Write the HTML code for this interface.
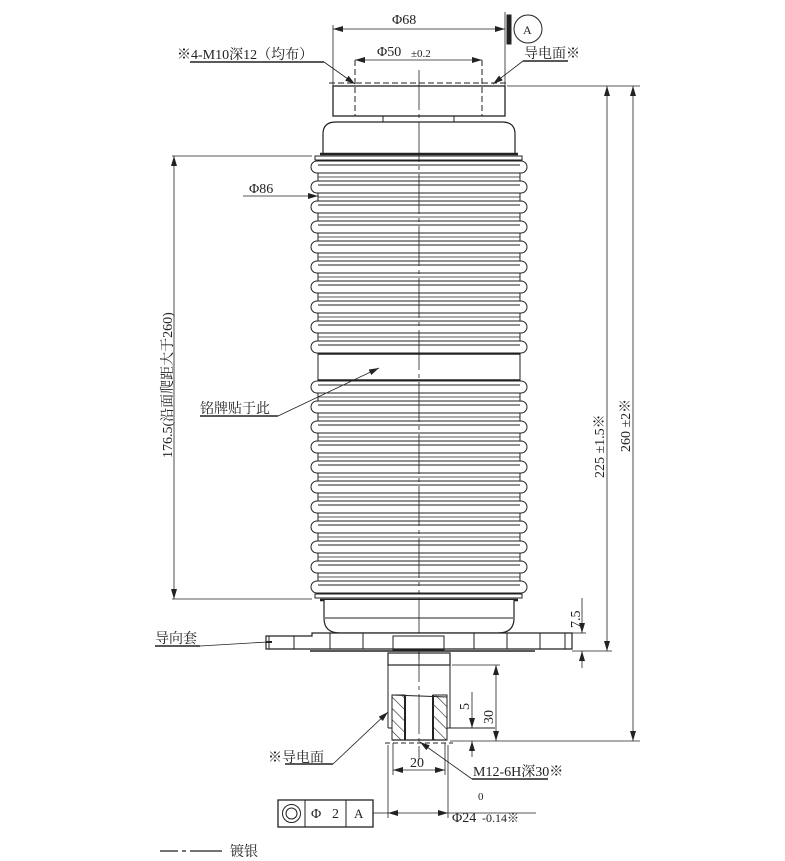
<!DOCTYPE html>
<html><head><meta charset="utf-8"><style>
html,body{margin:0;padding:0;background:#fff;}
svg{display:block;}
text{font-family:"Liberation Serif","Noto Serif CJK SC","Noto Sans CJK SC",serif;fill:#222;}
</style></head><body>
<svg width="785" height="861" viewBox="0 0 785 861" xmlns="http://www.w3.org/2000/svg">
<defs>
<marker id="ar" markerWidth="10" markerHeight="6" refX="10" refY="3" orient="auto-start-reverse" markerUnits="userSpaceOnUse"><path d="M0,0 L10,3 L0,6 z" fill="#222"/></marker>
<pattern id="hat" width="8" height="8" patternUnits="userSpaceOnUse" patternTransform="rotate(-45)"><line x1="0" y1="0" x2="0" y2="8" stroke="#222" stroke-width="1.2"/></pattern>
<g id="rib">
<rect x="311" y="-6" width="216" height="12" rx="6" ry="6" fill="#fff"/>
<line x1="318" y1="-2" x2="520" y2="-2"/>
<line x1="318" y1="10" x2="520" y2="10" stroke-width="0.8"/>
</g>
</defs>
<g stroke="#222" fill="none" stroke-width="1">
<line x1="329" y1="83" x2="507" y2="83" stroke-dasharray="6,3"/>
<rect x="333" y="86" width="172" height="30" stroke-width="1.3"/>
<line x1="355" y1="60" x2="355" y2="116" stroke-dasharray="6,3"/>
<line x1="482" y1="60" x2="482" y2="116" stroke-dasharray="6,3"/>
<rect x="383" y="116" width="71" height="6"/>
<path d="M323,154 L323,134 Q323,122 336,122 L502,122 Q515,122 515,134 L515,154" stroke-width="1.2"/>
<line x1="320" y1="154" x2="518" y2="154" stroke-width="2.5"/>
<rect x="315" y="156" width="207" height="4"/>
<line x1="318" y1="160" x2="318" y2="598"/>
<line x1="520" y1="160" x2="520" y2="598"/>
<use href="#rib" y="167"/><use href="#rib" y="187"/><use href="#rib" y="207"/><use href="#rib" y="227"/><use href="#rib" y="247"/>
<use href="#rib" y="267"/><use href="#rib" y="287"/><use href="#rib" y="307"/><use href="#rib" y="327"/><use href="#rib" y="347"/>
<use href="#rib" y="387"/><use href="#rib" y="407"/><use href="#rib" y="427"/><use href="#rib" y="447"/><use href="#rib" y="467"/>
<use href="#rib" y="487"/><use href="#rib" y="507"/><use href="#rib" y="527"/><use href="#rib" y="547"/><use href="#rib" y="567"/><use href="#rib" y="587"/>
<rect x="318" y="354" width="202" height="26" fill="#fff"/>
<line x1="318" y1="354" x2="520" y2="354" stroke-width="1.5"/>
<line x1="318" y1="380" x2="520" y2="380" stroke-width="1.5"/>
<line x1="419" y1="70" x2="419" y2="760" stroke-dasharray="40,4,4,4" stroke-width="0.8"/>
<rect x="315" y="594" width="207" height="4" fill="#fff"/>
<line x1="320" y1="600" x2="518" y2="600" stroke-width="2.5"/>
<path d="M324,600 L324,618 Q324,633 340,633 L498,633 Q514,633 514,618 L514,600" stroke-width="1.2" fill="#fff"/>
<line x1="325" y1="618" x2="513" y2="618"/>
<line x1="419" y1="600" x2="419" y2="660" stroke-dasharray="40,4,4,4" stroke-width="0.8"/>
<path d="M266,636 L312,636 L312,633 L572,633 L572,649 L266,649 Z" stroke-width="1.2" fill="#fff"/>
<line x1="266" y1="642" x2="272" y2="642" stroke-width="2"/>
<line x1="269" y1="636" x2="269" y2="649"/>
<line x1="294" y1="636" x2="294" y2="649"/>
<line x1="330" y1="633" x2="330" y2="649"/>
<line x1="363" y1="633" x2="363" y2="649"/>
<rect x="393" y="636" width="51" height="14"/>
<line x1="474" y1="633" x2="474" y2="649"/>
<line x1="507" y1="633" x2="507" y2="649"/>
<line x1="540" y1="633" x2="540" y2="649"/>
<line x1="565" y1="633" x2="565" y2="649"/>
<line x1="310" y1="651" x2="535" y2="651" stroke-width="1.5"/>
<rect x="388" y="653" width="62" height="12" stroke-width="1.2"/>
<line x1="388" y1="665" x2="388" y2="728"/>
<line x1="450" y1="665" x2="450" y2="728"/>
<rect x="392" y="695" width="13" height="45" fill="url(#hat)"/>
<rect x="433" y="695" width="14" height="45" fill="url(#hat)"/>
<line x1="405" y1="695" x2="405" y2="740" stroke-width="2"/>
<line x1="433" y1="695" x2="433" y2="740" stroke-width="2"/>
<line x1="392" y1="695" x2="447" y2="697"/>
<line x1="392" y1="740" x2="447" y2="740" stroke-width="1.3"/>
<line x1="385" y1="743" x2="453" y2="743" stroke-dasharray="5,3"/>
<line x1="388" y1="728" x2="392" y2="728"/>
<line x1="447" y1="728" x2="495" y2="728"/>
<line x1="333" y1="25" x2="333" y2="86" stroke-width="0.8"/>
<line x1="505" y1="12" x2="505" y2="116" stroke-width="0.8"/>
<line x1="333" y1="29" x2="505" y2="29" marker-start="url(#ar)" marker-end="url(#ar)" stroke-width="0.8"/>
<rect x="507" y="15" width="4" height="29" fill="#222"/>
<circle cx="528" cy="29" r="14"/>
<line x1="355" y1="60" x2="482" y2="60" marker-start="url(#ar)" marker-end="url(#ar)" stroke-width="0.8"/>
<line x1="190" y1="62" x2="324" y2="62" stroke-width="1.5"/>
<line x1="324" y1="62" x2="355" y2="84" marker-end="url(#ar)" stroke-width="0.8"/>
<line x1="523" y1="61" x2="568" y2="61" stroke-width="1.5"/>
<line x1="523" y1="61" x2="493" y2="84" marker-end="url(#ar)" stroke-width="0.8"/>
<line x1="507" y1="86" x2="640" y2="86" stroke-width="0.8"/>
<line x1="607" y1="86" x2="607" y2="651" marker-start="url(#ar)" marker-end="url(#ar)" stroke-width="0.8"/>
<line x1="633" y1="86" x2="633" y2="741" marker-start="url(#ar)" marker-end="url(#ar)" stroke-width="0.8"/>
<line x1="572" y1="651" x2="612" y2="651" stroke-width="0.8"/>
<line x1="450" y1="741" x2="640" y2="741" stroke-width="0.8"/>
<line x1="572" y1="633" x2="586" y2="633" stroke-width="0.8"/>
<line x1="582" y1="598" x2="582" y2="633" marker-end="url(#ar)" stroke-width="0.8"/>
<line x1="582" y1="668" x2="582" y2="651" marker-end="url(#ar)" stroke-width="0.8"/>
<line x1="172" y1="156" x2="312" y2="156" stroke-width="0.8"/>
<line x1="172" y1="599" x2="312" y2="599" stroke-width="0.8"/>
<line x1="174" y1="156" x2="174" y2="599" marker-start="url(#ar)" marker-end="url(#ar)" stroke-width="0.8"/>
<line x1="243" y1="196" x2="318" y2="196" marker-end="url(#ar)" stroke-width="0.8"/>
<line x1="200" y1="416" x2="278" y2="416" stroke-width="1.5"/>
<line x1="278" y1="416" x2="379" y2="368" marker-end="url(#ar)" stroke-width="0.8"/>
<line x1="155" y1="646" x2="200" y2="646" stroke-width="1.5"/>
<line x1="200" y1="646" x2="268" y2="642" stroke-width="0.8"/>
<line x1="452" y1="665" x2="500" y2="665" stroke-width="0.8"/>
<line x1="496" y1="665" x2="496" y2="741" marker-start="url(#ar)" marker-end="url(#ar)" stroke-width="0.8"/>
<line x1="472" y1="692" x2="472" y2="728" marker-end="url(#ar)" stroke-width="0.8"/>
<line x1="472" y1="757" x2="472" y2="741" marker-end="url(#ar)" stroke-width="0.8"/>
<line x1="393" y1="743" x2="393" y2="775" stroke-width="0.8"/>
<line x1="445" y1="743" x2="445" y2="775" stroke-width="0.8"/>
<line x1="393" y1="770" x2="445" y2="770" marker-start="url(#ar)" marker-end="url(#ar)" stroke-width="0.8"/>
<line x1="285" y1="764" x2="333" y2="764" stroke-width="1.5"/>
<line x1="333" y1="764" x2="388" y2="712" marker-end="url(#ar)" stroke-width="0.8"/>
<line x1="472" y1="779" x2="548" y2="779" stroke-width="1.5"/>
<line x1="472" y1="779" x2="420" y2="742" marker-end="url(#ar)" stroke-width="0.8"/>
<line x1="388" y1="745" x2="388" y2="818" stroke-width="0.8"/>
<line x1="448" y1="745" x2="448" y2="818" stroke-width="0.8"/>
<line x1="373" y1="813" x2="388" y2="813" stroke-width="0.8"/>
<line x1="400" y1="813" x2="388" y2="813" marker-end="url(#ar)" stroke-width="0.8"/>
<line x1="400" y1="813" x2="448" y2="813" marker-end="url(#ar)" stroke-width="0.8"/>
<line x1="448" y1="813" x2="536" y2="813" stroke-width="0.8"/>
<rect x="278" y="800" width="95" height="27" stroke-width="1.3"/>
<line x1="305" y1="800" x2="305" y2="827"/>
<line x1="346" y1="800" x2="346" y2="827"/>
<circle cx="291.5" cy="813.5" r="9"/>
<circle cx="291.5" cy="813.5" r="5.5"/>
<line x1="160" y1="851" x2="222" y2="851" stroke-dasharray="18,4,4,4,40" stroke-width="1.2"/>
</g>
<g font-size="14">
<text x="392" y="24">Φ68</text>
<text x="523" y="34" font-size="12">A</text>
<text x="377" y="56">Φ50</text>
<text x="411" y="57" font-size="11">±0.2</text>
<text x="177" y="59">※4-M10深12（均布）</text>
<text x="524" y="58">导电面※</text>
<text x="249" y="193">Φ86</text>
<text x="200" y="413">铭牌贴于此</text>
<text x="155" y="643">导向套</text>
<text x="268" y="762">※导电面</text>
<text x="473" y="776">M12-6H深30※</text>
<text x="410" y="767">20</text>
<text x="452" y="822">Φ24</text>
<text x="478" y="800" font-size="11">0</text>
<text x="482" y="822" font-size="12">-0.14※</text>
<text x="311" y="818">Φ</text>
<text x="332" y="818">2</text>
<text x="354" y="818" font-size="13">A</text>
<text x="230" y="856">镀银</text>
<text transform="translate(172,458) rotate(-90)">176.5(沿面爬距大于260)</text>
<text transform="translate(604,478) rotate(-90)">225 ±1.5※</text>
<text transform="translate(630,452) rotate(-90)">260 ±2※</text>
<text transform="translate(580,628) rotate(-90)">7.5</text>
<text transform="translate(469,710) rotate(-90)">5</text>
<text transform="translate(493,724) rotate(-90)">30</text>
</g>
</svg>
</body></html>
